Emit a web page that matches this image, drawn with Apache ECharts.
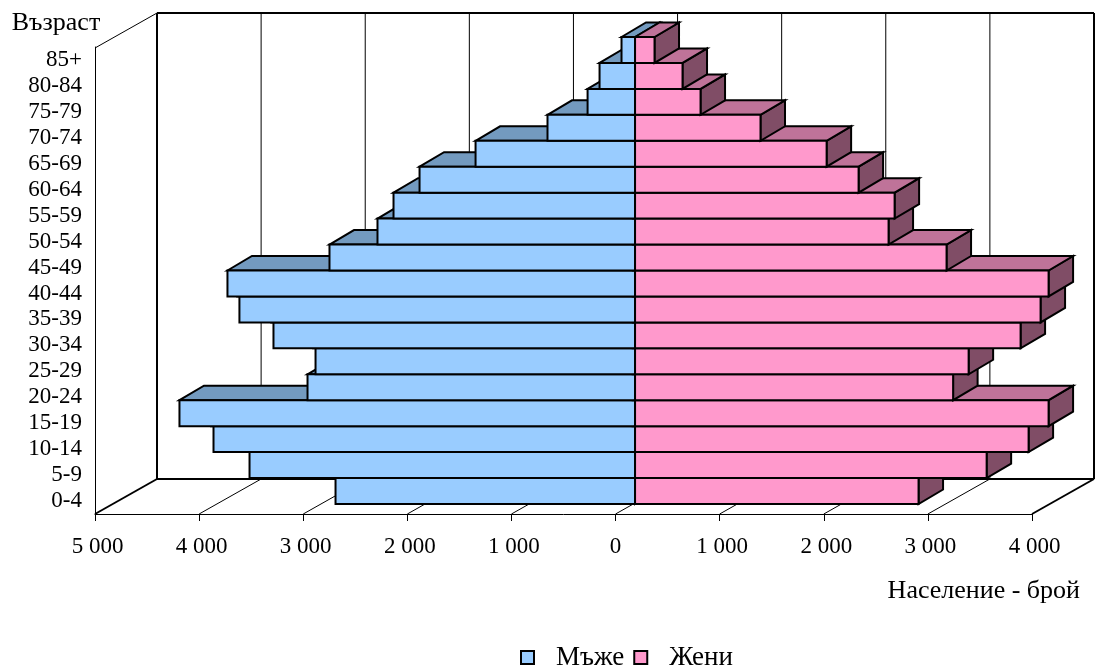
<!DOCTYPE html>
<html><head><meta charset="utf-8">
<script src="https://cdn.jsdelivr.net/npm/echarts@6/dist/echarts.min.js"></script>
<style>html,body{margin:0;padding:0;background:#fff}#c{width:1099px;height:667px}</style>
</head><body><div id="c"></div>
<script>
var ageGroups = ['0-4','5-9','10-14','15-19','20-24','25-29','30-34','35-39','40-44','45-49','50-54','55-59','60-64','65-69','70-74','75-79','80-84','85+'];
var men   = [2877,3703,4049,4376,3146,3069,3473,3800,3915,2935,2474,2320,2070,1532,841,456,341,130];
var women = [2723,3377,3780,3972,3055,3204,3703,3895,3972,2992,2435,2493,2147,1840,1205,629,456,187];
var gridTicks = [-5000,-4000,-3000,-2000,-1000,0,1000,2000,3000,4000];

var FONT = '"Liberation Serif","Times New Roman",serif';
var WALL = {dx:62, dy:-35};
var BAR_OFF = {dx:19.5, dy:-10};
var BAR_DEPTH = {dx:24.5, dy:-14.5};

function poly(points, fill, lw){
  return {type:'polygon', shape:{points:points}, style:{fill:fill, stroke:'#000', lineWidth:lw||2, lineJoin:'miter'}};
}
function line(x1,y1,x2,y2,lw){
  return {type:'line', shape:{x1:x1,y1:y1,x2:x2,y2:y2}, style:{stroke:'#000', lineWidth:lw||1}};
}
function barRender(front, top, side){
  return function(params, api){
    var p = api.coord([api.value(0), api.value(1)]);
    var z = api.coord([0, api.value(1)]);
    var h = api.size([0,1])[1];
    var y0 = p[1]-h/2+BAR_OFF.dy, y1 = p[1]+h/2+BAR_OFF.dy;
    var xa = Math.min(p[0],z[0])+BAR_OFF.dx, xb = Math.max(p[0],z[0])+BAR_OFF.dx;
    var dx = BAR_DEPTH.dx, dy = BAR_DEPTH.dy;
    return {type:'group', children:[
      poly([[xb,y0],[xb+dx,y0+dy],[xb+dx,y1+dy],[xb,y1]], side),
      poly([[xa,y0],[xa+dx,y0+dy],[xb+dx,y0+dy],[xb,y0]], top),
      poly([[xa,y0],[xb,y0],[xb,y1],[xa,y1]], front)
    ]};
  };
}
function frameRender(params, api){
  var v = api.value(0);
  var cs = params.coordSys;
  var x = api.coord([v,0])[0];
  var yB = cs.y+cs.height, yT = cs.y+1;
  var edge = (params.dataIndex===0 || params.dataIndex===gridTicks.length-1);
  var kids = [];
  kids.push(line(x,yB,x+WALL.dx,yB+WALL.dy, edge?2:1));
  kids.push(line(x+WALL.dx,yT+WALL.dy,x+WALL.dx,yB+WALL.dy, edge?2:1));
  if(params.dataIndex===0){
    kids.push(line(x,yT,x+WALL.dx,yT+WALL.dy,1));
    kids.push(line(x+WALL.dx,yT+WALL.dy,cs.x+cs.width+WALL.dx,yT+WALL.dy,2));
    kids.push(line(x+WALL.dx,yB+WALL.dy,cs.x+cs.width+WALL.dx,yB+WALL.dy,2));
  }
  return {type:'group', children:kids};
}

var chart = echarts.init(document.getElementById('c'), null, {renderer:'canvas'});
chart.setOption({
  animation:false,
  backgroundColor:'#fff',
  textStyle:{fontFamily:FONT},
  grid:{left:95, top:47, width:937, height:467, containLabel:false},
  legend:{
    data:['Мъже','Жени'], left:520, top:644, padding:0, itemWidth:13, itemHeight:13, itemGap:9,
    icon:'rect', selectedMode:false,
    itemStyle:{borderColor:'#000', borderWidth:2},
    textStyle:{fontFamily:FONT, fontSize:27, color:'#000', padding:[0,0,0,17]}
  },
  xAxis:{
    type:'value', min:-5000, max:4000, interval:1000,
    name:'Население - брой', nameLocation:'end', nameGap:48,
    nameTextStyle:{fontFamily:FONT, fontSize:26, color:'#000', align:'right', verticalAlign:'top', padding:[64,0,0,0]},
    axisLine:{show:true, lineStyle:{color:'#000', width:1}},
    axisTick:{show:true, length:7, lineStyle:{color:'#000', width:1}},
    axisLabel:{fontFamily:FONT, fontSize:23, color:'#000', margin:21, hideOverlap:false, showMinLabel:true, showMaxLabel:true,
      formatter:function(v){ var a=Math.abs(v); return a===0?'0':'{n|'+Math.floor(a/1000)+' 000}'; },
      rich:{n:{fontFamily:FONT, fontSize:23, color:'#000', padding:[0,0,0,5]}}},
    splitLine:{show:false}
  },
  yAxis:{
    type:'category', data:ageGroups,
    name:'Възраст', nameLocation:'end', nameGap:24,
    nameTextStyle:{fontFamily:FONT, fontSize:26, color:'#000', align:'center', verticalAlign:'middle', padding:[0,78,0,0]},
    axisLine:{show:true, onZero:false, lineStyle:{color:'#000', width:1}},
    axisTick:{show:false},
    axisLabel:{fontFamily:FONT, fontSize:23, color:'#000', margin:13, interval:0, padding:[0,0,3,0]},
    splitLine:{show:false}
  },
  series:[
    {type:'custom', name:'frame', silent:true, clip:false, z:1, renderItem:frameRender,
     encode:{x:0,y:1}, data:gridTicks.map(function(v){return [v,0];})},
    {type:'custom', name:'Мъже', silent:true, clip:false, z:2,
     renderItem:barRender('#99CCFF','#739ABF','#4D6680'),
     itemStyle:{color:'#99CCFF'}, encode:{x:0,y:1},
     data:men.map(function(v,i){return [-v,i];})},
    {type:'custom', name:'Жени', silent:true, clip:false, z:3,
     renderItem:barRender('#FF99CC','#BF7399','#804D66'),
     itemStyle:{color:'#FF99CC'}, encode:{x:0,y:1},
     data:women.map(function(v,i){return [v,i];})}
  ]
});
</script></body></html>
